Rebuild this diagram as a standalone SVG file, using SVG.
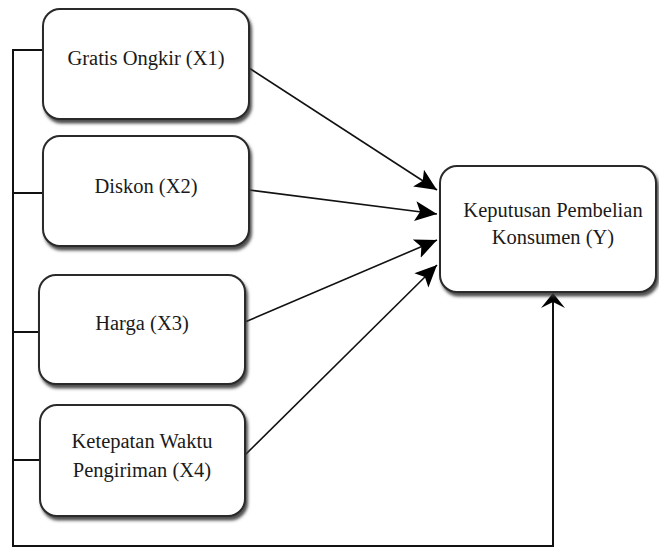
<svg xmlns="http://www.w3.org/2000/svg" width="659" height="548" viewBox="0 0 659 548">
<style>
.box{fill:#fff;stroke:#2a2a2a;stroke-width:2;filter:url(#sh)}
.lbl{font-family:'Liberation Serif','Times New Roman',Times,serif;font-size:20.5px;fill:#1a1a1a;text-anchor:middle}
.ln{fill:none;stroke:#111;stroke-width:2}
.ar{fill:none;stroke:#111;stroke-width:1.6;marker-end:url(#ah)}
</style>
<defs>
<filter id="sh" x="-10%" y="-10%" width="130%" height="130%">
<feDropShadow dx="2" dy="3.5" stdDeviation="1.5" flood-color="#3a3a3a" flood-opacity="0.9"/>
</filter>
<marker id="ah" markerUnits="userSpaceOnUse" markerWidth="24" markerHeight="24" viewBox="0 0 24 24" refX="22" refY="12" orient="auto">
<path d="M0,2 L22,12 L0,22 L5,12 Z" fill="#000"/>
</marker>
</defs>
<g id="connectors">
<path class="ln" d="M43,50 H13 V546 H553 V302"/>
<path class="ln" d="M13,193 H43"/>
<path class="ln" d="M13,332 H40"/>
<path class="ln" d="M13,460 H40"/>
<path d="M553,293 L565,308 L553,302 L541,308 Z" fill="#000"/>
<line class="ar" x1="249" y1="68" x2="437" y2="190"/>
<line class="ar" x1="249" y1="190" x2="437" y2="214"/>
<line class="ar" x1="245" y1="322" x2="437" y2="240"/>
<line class="ar" x1="245" y1="455" x2="437" y2="265"/>
</g>
<g id="x1">
<rect class="box" x="43" y="9" width="206" height="110" rx="17"/>
<text class="lbl" x="146" y="65">Gratis Ongkir (X1)</text>
</g>
<g id="x2">
<rect class="box" x="43" y="136" width="206" height="110" rx="17"/>
<text class="lbl" x="146" y="193">Diskon (X2)</text>
</g>
<g id="x3">
<rect class="box" x="39" y="275" width="206" height="109" rx="17"/>
<text class="lbl" x="142" y="330">Harga (X3)</text>
</g>
<g id="x4">
<rect class="box" x="40" y="405" width="205" height="111" rx="17"/>
<text class="lbl" x="142" y="448">Ketepatan Waktu</text>
<text class="lbl" x="142" y="477">Pengiriman (X4)</text>
</g>
<g id="y">
<rect class="box" x="440" y="166" width="216" height="126" rx="17"/>
<text class="lbl" x="553" y="217">Keputusan Pembelian</text>
<text class="lbl" x="553" y="244">Konsumen (Y)</text>
</g>
</svg>
